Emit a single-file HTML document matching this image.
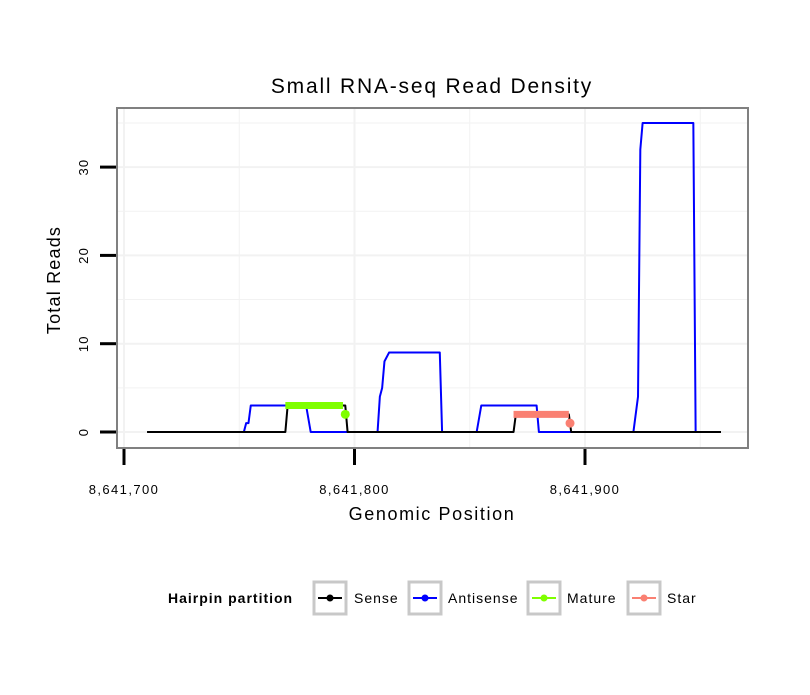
<!DOCTYPE html>
<html><head><meta charset="utf-8"><style>
body{margin:0;background:#fff;}
svg text{font-family:"Liberation Sans",sans-serif;}
</style></head><body>
<svg id="c" width="810" height="690"></svg>
<script>
const xTicks=[8641700,8641800,8641900];
const xTickLabels=["8,641,700","8,641,800","8,641,900"];
const yTicks=[0,10,20,30];
const senseX=[10,70,71,96,97,169,170,193,194,259];
const senseY=[0,0,3,3,0,0,2,2,0,0];
const antiX=[52,53,54,55,79,81,97,110,111,112,113,115,137,138,153,155,179,180,194,221,223,224,225,247,248];
const antiY=[0,1,1,3,3,0,0,0,4,5,8,9,9,0,0,3,3,0,0,0,4,32,35,35,0];
const matureX=[70,95];
const matureY=[3,3];
const maturePt=[[96,2]];
const starX=[169,193];
const starY=[2,2];
const starPt=[[193.5,1]];
const base=8641700;
const X=v=>124+(v)*2.305;
const Y=v=>432-v*8.83;
const svg=document.getElementById('c');
const NS='http://www.w3.org/2000/svg';
function mk(t,a,p){const e=document.createElementNS(NS,t);for(const k in a)e.setAttribute(k,a[k]);(p||svg).appendChild(e);return e;}
const g=mk('g',{});


for(let v=0;v<=300;v+=50){const x=X(v);if(x>117&&x<748)mk('line',{x1:x,x2:x,y1:108,y2:448,stroke:'#f2f2f2','stroke-width':v%100==0?2:1},g);}
for(let v=0;v<=35;v+=5){const y=Y(v);mk('line',{x1:117,x2:748,y1:y,y2:y,stroke:'#f2f2f2','stroke-width':v%10==0?2:1},g);}
function line(xs,ys,col,w,name){const p=mk('polyline',{points:xs.map((x,i)=>X(x)+','+Y(ys[i])).join(' '),fill:'none',stroke:col,'stroke-width':w,'stroke-linejoin':'round'});

}
line(antiX,antiY,'#0000ff',2,'antisense-line');
line(senseX,senseY,'#000',2,'sense-line');
line(matureX,matureY,'#7fff00',7,'mature-line');
maturePt.forEach(p=>{const c=mk('circle',{cx:X(p[0]),cy:Y(p[1]),r:4.5,fill:'#7fff00'});

});
line(starX,starY,'#fa8072',7,'star-line');
starPt.forEach(p=>{const c=mk('circle',{cx:X(p[0]),cy:Y(p[1]),r:4.5,fill:'#fa8072'});

});
const fr=mk('rect',{x:117,y:108,width:631,height:340,fill:'none',stroke:'#808080','stroke-width':2});


xTicks.forEach((v,i)=>{const x=X(v-base);mk('line',{x1:x,x2:x,y1:449,y2:465,stroke:'#000','stroke-width':3});
const t=mk('text',{x:x,y:494,'text-anchor':'middle','font-size':13,'letter-spacing':1.4});t.textContent=xTickLabels[i];

});
yTicks.forEach(v=>{const y=Y(v);mk('line',{x1:100,x2:116,y1:y,y2:y,stroke:'#000','stroke-width':3});
const t=mk('text',{x:0,y:0,'text-anchor':'middle','font-size':13,'letter-spacing':1.2,transform:`translate(88,${y}) rotate(-90)`});t.textContent=v;

});
</script>
<svg width="810" height="690" style="position:absolute;left:0;top:0">
<text x="432" y="93" text-anchor="middle" font-size="21" letter-spacing="1.8">Small RNA-seq Read Density</text>
<text x="432" y="520" text-anchor="middle" font-size="18" letter-spacing="1.6">Genomic Position</text>
<text transform="translate(60,280) rotate(-90)" text-anchor="middle" font-size="18" letter-spacing="1.2">Total Reads</text>
<g font-size="14" letter-spacing="1">
<text x="168" y="603" font-weight="bold">Hairpin partition</text>
<g><rect x="314" y="582" width="32" height="32" fill="#fff" stroke="#c8c8c8" stroke-width="3"/><line x1="318" x2="342" y1="598" y2="598" stroke="#000" stroke-width="2"/><circle cx="330" cy="598" r="3.5" fill="#000"/><text x="354" y="603">Sense</text></g>
<g><rect x="409" y="582" width="32" height="32" fill="#fff" stroke="#c8c8c8" stroke-width="3"/><line x1="413" x2="437" y1="598" y2="598" stroke="#00f" stroke-width="2"/><circle cx="425" cy="598" r="3.5" fill="#00f"/><text x="448" y="603">Antisense</text></g>
<g><rect x="528" y="582" width="32" height="32" fill="#fff" stroke="#c8c8c8" stroke-width="3"/><line x1="532" x2="556" y1="598" y2="598" stroke="#7fff00" stroke-width="2"/><circle cx="544" cy="598" r="3.5" fill="#7fff00"/><text x="567" y="603">Mature</text></g>
<g><rect x="628" y="582" width="32" height="32" fill="#fff" stroke="#c8c8c8" stroke-width="3"/><line x1="632" x2="656" y1="598" y2="598" stroke="#fa8072" stroke-width="2"/><circle cx="644" cy="598" r="3.5" fill="#fa8072"/><text x="667" y="603">Star</text></g>
</g>
</svg>
</body></html>
